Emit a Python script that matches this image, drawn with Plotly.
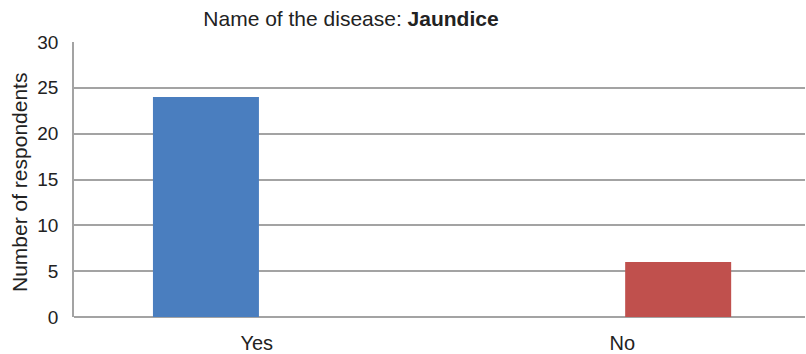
import plotly.graph_objects as go

categories = ["Yes", "No"]
values = [24, 6]
colors = ["#4A7EBF", "#C0504D"]
y_ticks = [0, 5, 10, 15, 20, 25, 30]

fig = go.Figure()
fig.add_trace(go.Bar(
    x=categories, y=values, marker=dict(color=colors, line=dict(width=0)),
    width=0.29, offset=[-0.284, 0.008],
))

font_family = "Liberation Sans, Arial, sans-serif"
fig.update_layout(
    width=806, height=354,
    margin=dict(l=74, r=1, t=42, b=37),
    paper_bgcolor="white", plot_bgcolor="white",
    showlegend=False,
    font=dict(family=font_family, size=19, color="#222222"),
    title=dict(
        text="Name of the disease: <b>Jaundice</b>",
        x=351/806, xanchor="center", y=1 - 19/354, yanchor="middle",
        font=dict(size=21, family=font_family, color="#222222"),
    ),
    annotations=[dict(
        text="Number of respondents", textangle=-90,
        xref="paper", yref="paper",
        x=-(74 - 19) / 731, y=(317 - 183) / 275,
        xanchor="center", yanchor="middle", showarrow=False,
        font=dict(size=21, family=font_family, color="#222222"),
    )],
)
fig.update_xaxes(
    type="category", range=[-0.5, 1.5],
    showgrid=False, showline=False, ticks="", zeroline=False,
    ticklabelstandoff=12, tickfont=dict(size=20),
)
fig.update_yaxes(
    range=[0, 30], tickvals=y_ticks,
    showgrid=True, gridcolor="#A3A3A3", gridwidth=1.5,
    showline=True, linecolor="#A3A3A3", linewidth=1.5,
    zeroline=True, zerolinecolor="#A3A3A3", zerolinewidth=1.5,
    ticks="", ticklabelstandoff=10, tickfont=dict(size=19),
)

fig.write_html("out.html")
